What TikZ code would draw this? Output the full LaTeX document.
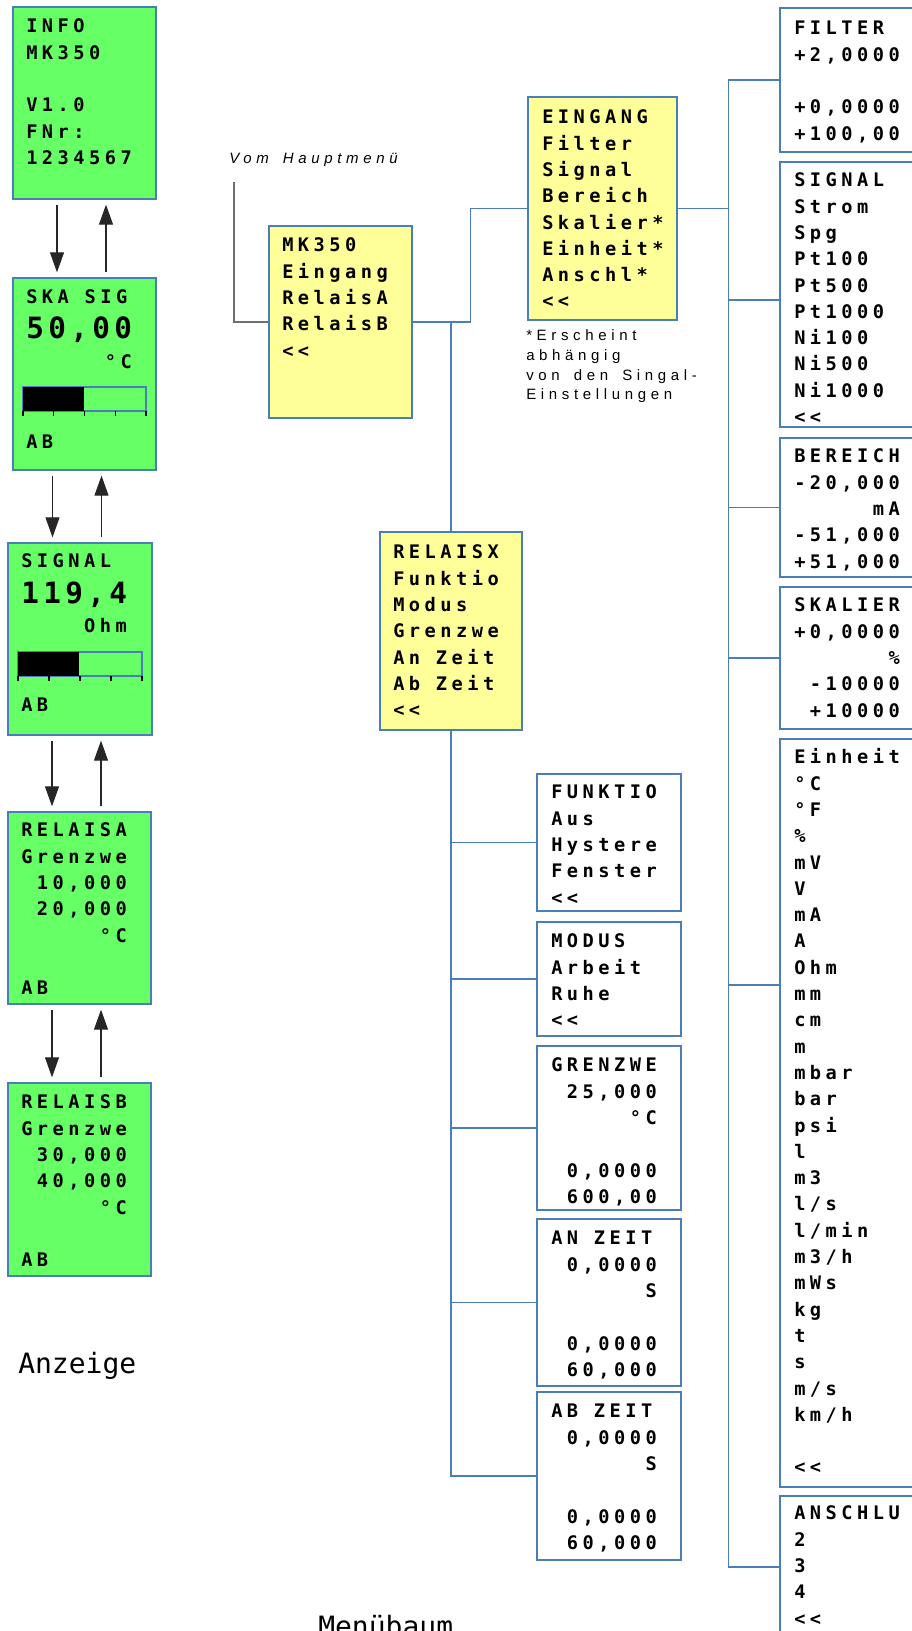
\documentclass[tikz,border=0pt]{standalone}
\usepackage{fontspec}
\usepackage{tikz}
\usetikzlibrary{arrows.meta, positioning, fit, calc}
\definecolor{lcdgreen}{HTML}{66FF66}
\definecolor{menuyellow}{HTML}{FFFF99}
\definecolor{boxblue}{HTML}{4A7EBB}
\definecolor{feedgray}{HTML}{6E6E6E}
\newfontfamily\lcdfont{DejaVu Sans Mono}[LetterSpace=24]
\newfontfamily\lcdbigfont{DejaVu Sans Mono}[LetterSpace=15]
\newfontfamily\notefont{Liberation Sans}[LetterSpace=31, WordSpace=1.6]
\newfontfamily\capfont{DejaVu Sans Mono}
\newcommand\lcd{\lcdfont\bfseries\fontsize{14pt}{19.725pt}\selectfont}
\newcommand\lcdbig{\lcdbigfont\bfseries\fontsize{22pt}{26pt}\selectfont}
\newcommand\rside{\hspace*{\fill}}
\newcommand\lcdgap{\hspace{0.842em}}
\newlength\lcdw
\settowidth\lcdw{\lcd 0000000}
\hyphenpenalty=10000

\begin{document}
\begin{tikzpicture}[x=0.75pt, y=-0.75pt]
  \tikzset{
    disp/.style={draw=boxblue, fill=lcdgreen, line width=1pt, inner sep=0pt},
    menu/.style={draw=boxblue, fill=menuyellow, line width=1pt, inner sep=0pt},
    sub/.style={draw=boxblue, fill=white, line width=1pt, inner sep=0pt},
    txt/.style={anchor=north west, inner sep=0pt, align=left, text width=\lcdw,
                font=\lcd, execute at begin node=\strut},
    wtxt/.style={txt, text width=1.3\lcdw},
    big/.style={anchor=base west, inner sep=0pt, font=\lcdbig},
    bar/.style={draw=boxblue, line width=0.8pt},
    tick/.style={draw=black, line width=0.8pt},
    conn/.style={draw=boxblue, line width=0.9pt},
    nav/.style={draw=black!85, line width=0.8pt, -{Triangle[length=15pt, width=10.5pt]}},
    feed/.style={draw=feedgray, line width=1.4pt},
    note/.style={anchor=north west, inner sep=0pt, align=left,
                 font=\notefont\fontsize{11.25pt}{14.7pt}\selectfont, execute at begin node=\strut},
    captxt/.style={anchor=base west, inner sep=0pt, font=\capfont\fontsize{21pt}{25pt}\selectfont}
  }
  \path[use as bounding box, fill=white] (0,0) rectangle (912,1631);

  % Anzeige
  \node[disp, fit={(13,7) (156,199)}] (info) {};
  \node[disp, fit={(13,278) (156,470)}] (ska) {};
  \node[disp, fit={(8,543) (152,735)}] (sig) {};
  \node[disp, fit={(8,812) (151,1004)}] (rela) {};
  \node[disp, fit={(8,1083) (151,1276)}] (relb) {};

  \node[txt] (info-t) at (26,14.2) {INFO\\MK350\\~\\V1.0\\FNr:\\1234567};

  \node[txt] (ska-t) at (26,285.2) {SKA\lcdgap SIG};
  \node[big] (ska-v) at (26,338.7) {50,00};
  \node[txt] (ska-u) at (26,350.2) {\rside °C};
  \node[txt] (ska-ab) at (26,430.2) {AB};
  \draw[bar, fill=lcdgreen] (23,387) rectangle (146,411);
  \fill[black] (23,387) rectangle (84,411);
  \foreach \i in {0,...,4} \draw[tick] (23+30.75*\i,411) -- +(0,5);

  \node[txt] (sig-t) at (21,549.2) {SIGNAL};
  \node[big] (sig-v) at (21,603.7) {119,4};
  \node[txt] (sig-u) at (21,614.2) {\rside Ohm};
  \node[txt] (sig-ab) at (21,693.2) {AB};
  \draw[bar, fill=lcdgreen] (18,652) rectangle (142,676);
  \fill[black] (18,652) rectangle (79,676);
  \foreach \i in {0,...,4} \draw[tick] (18+31*\i,676) -- +(0,5);

  \node[txt] (rela-t) at (21,818.2) {RELAISA\\Grenzwe\\\rside 10,000\\\rside 20,000\\\rside °C\\~\\AB};
  \node[txt] (relb-t) at (21,1090.2) {RELAISB\\Grenzwe\\\rside 30,000\\\rside 40,000\\\rside °C\\~\\AB};

  \foreach \a/\b in {info/ska, ska/sig, sig/rela, rela/relb} {
    \draw[nav] ($(\b.north |- \a.south)+(-27.5,5)$) -- ($(\b.north)+(-27.5,-5)$);
    \draw[nav] ($(\b.north)+(21.5,-5)$) -- ($(\b.north |- \a.south)+(21.5,5)$);
  }

  \node[captxt] (capdisp) at (18,1373) {Anzeige};

  % Menuebaum
  \node[anchor=base west, inner sep=0pt,
        font=\notefont\itshape\fontsize{11.25pt}{14.7pt}\selectfont] (vom) at (229,163) {Vom Hauptmenü};
  \coordinate (vom-end) at (234,182);

  \node[menu, fit={(269,226) (412,418)}] (mk) {};
  \node[menu, fit={(528,97) (677,320)}] (ein) {};
  \node[menu, fit={(380,532) (522,730)}] (relx) {};

  \node[txt] (mk-t) at (282,233.2) {MK350\\Eingang\\RelaisA\\RelaisB\\<<};
  \node[wtxt] (ein-t) at (542,105.2) {EINGANG\\Filter\\Signal\\Bereich\\Skalier*\\Einheit*\\Anschl*\\<<};
  \node[txt] (relx-t) at (393,540.2) {RELAISX\\Funktio\\Modus\\Grenzwe\\An\lcdgap Zeit\\Ab\lcdgap Zeit\\<<};

  \node[note] (hint) at (526,329.8) {*Erscheint\\abhängig\\von den Singal-\\Einstellungen};

  % Relais submenus
  \node[sub, fit={(537,774) (681,911)}] (funk) {};
  \node[sub, fit={(537,922) (681,1036)}] (modus) {};
  \node[sub, fit={(537,1046) (681,1210)}] (grenz) {};
  \node[sub, fit={(537,1219) (681,1386)}] (anzeit) {};
  \node[sub, fit={(537,1392) (681,1560)}] (abzeit) {};

  \node[txt] (funk-t) at (551,780.2) {FUNKTIO\\Aus\\Hystere\\Fenster\\<<};
  \node[txt] (modus-t) at (551,929.2) {MODUS\\Arbeit\\Ruhe\\<<};
  \node[txt] (grenz-t) at (551,1053.2) {GRENZWE\\\rside 25,000\\\rside °C\\~\\\rside 0,0000\\\rside 600,00};
  \node[txt] (anzeit-t) at (551,1226.2) {AN\lcdgap ZEIT\\\rside 0,0000\\\rside S\\~\\\rside 0,0000\\\rside 60,000};
  \node[txt] (abzeit-t) at (551,1399.2) {AB\lcdgap ZEIT\\\rside 0,0000\\\rside S\\~\\\rside 0,0000\\\rside 60,000};

  % Eingang submenus
  \node[sub, fit={(780,8) (930,152)}] (filt) {};
  \node[sub, fit={(780,162) (930,427)}] (sigr) {};
  \node[sub, fit={(780,438) (930,577)}] (ber) {};
  \node[sub, fit={(780,587) (930,729)}] (ska2) {};
  \node[sub, fit={(780,739) (930,1487)}] (einh) {};
  \node[sub, fit={(780,1496) (930,1638)}] (ansch) {};

  \node[txt] (filt-t) at (794,16.2) {FILTER\\+2,0000\\~\\+0,0000\\+100,00};
  \node[txt] (sigr-t) at (794,168.2) {SIGNAL\\Strom\\Spg\\Pt100\\Pt500\\Pt1000\\Ni100\\Ni500\\Ni1000\\<<};
  \node[txt] (ber-t) at (794,444.2) {BEREICH\\-20,000\\\rside mA\\-51,000\\+51,000};
  \node[txt] (ska2-t) at (794,593.2) {SKALIER\\+0,0000\\\rside \%\\\rside -10000\\\rside +10000};
  \node[txt] (einh-t) at (794,745.2) {Einheit\\°C\\°F\\\%\\mV\\V\\mA\\A\\Ohm\\mm\\cm\\m\\mbar\\bar\\psi\\l\\m3\\l/s\\l/min\\m3/h\\mWs\\kg\\t\\s\\m/s\\km/h\\~\\<<};
  \node[txt] (ansch-t) at (794,1501.2) {ANSCHLU\\2\\3\\4\\<<};

  % connectors
  \draw[feed] (vom-end) |- (mk.west);
  \draw[conn] (mk.east) -- ++(58,0) |- (ein.west);
  \draw[conn] (relx.north) |- (mk.east);
  \foreach \b in {funk, modus, grenz, anzeit, abzeit}
    \draw[conn] (relx.south) |- (\b.west);
  \draw[conn] (ein.east) -- ++(51,0) coordinate (bus);
  \foreach \b in {filt, ber, ska2, ansch}
    \draw[conn] (\b.west) -| (bus);
  \draw[conn] ($(sigr.west)+(0,5.5)$) -| (bus);
  \draw[conn] ($(einh.west)+(0,-128)$) -| (bus);

  \node[captxt] (capmenu) at (318,1636) {Menübaum};
\end{tikzpicture}
\end{document}
